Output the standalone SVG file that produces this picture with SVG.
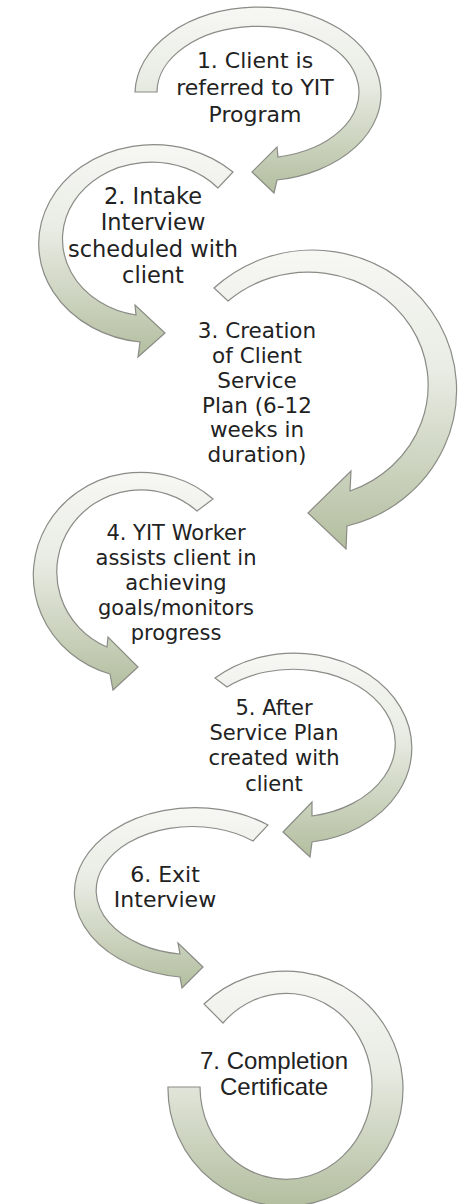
<svg xmlns="http://www.w3.org/2000/svg" width="458" height="1204" viewBox="0 0 458 1204">
<defs>
<linearGradient id="g" x1="0" y1="0" x2="0" y2="1">
<stop offset="0" stop-color="#f7f7f4"/>
<stop offset="0.4" stop-color="#e9ece4"/>
<stop offset="1" stop-color="#b3be9f"/>
</linearGradient>
<style>
.arr{fill:url(#g);stroke:#8a8c86;stroke-width:1.2;stroke-linejoin:miter}
.t{font-family:"DejaVu Sans",sans-serif;fill:#222222;text-anchor:middle}
.t7{font-family:"Liberation Sans",Arial,sans-serif;fill:#222222;text-anchor:middle}
</style>
</defs>
<rect width="458" height="1204" fill="#ffffff"/>
<g id="step1">
<path class="arr" d="M 135 92 A 123 87 0 1 1 277 180 L 274 193 L 252 172 L 277 147 L 278 157 A 101 66 0 1 0 157 92 Z"/>
<text class="t" font-size="22"><tspan x="255" y="68">1. Client is</tspan><tspan x="255" y="95">referred to YIT</tspan><tspan x="255" y="122">Program</tspan></text>
</g>
<g id="step2">
<path class="arr" d="M 233 172 A 115 99 0 1 0 140 342 L 138 357 L 165 333 L 135 305 L 136 315 A 89 77 0 1 1 218 188 Z"/>
<text class="t" font-size="22.5"><tspan x="153" y="204">2. Intake</tspan><tspan x="153" y="230">Interview</tspan><tspan x="153" y="257">scheduled with</tspan><tspan x="153" y="283">client</tspan></text>
</g>
<g id="step3">
<path class="arr" d="M 214 288 A 144 140 0 1 1 347 526 L 346 549 L 308 513 L 351 471 L 350 491 A 120 113 0 1 0 228 301 Z"/>
<text class="t" font-size="21.5"><tspan x="257" y="338">3. Creation</tspan><tspan x="257" y="363">of Client</tspan><tspan x="257" y="388">Service</tspan><tspan x="257" y="413">Plan (6-12</tspan><tspan x="257" y="437">weeks in</tspan><tspan x="257" y="462">duration)</tspan></text>
</g>
<g id="step4">
<path class="arr" d="M 213 499 A 107.5 103 0 1 0 110 674 L 113 690 L 138 667 L 108 637 L 107 647 A 84 82 0 1 1 197 511 Z"/>
<text class="t" font-size="21"><tspan x="176" y="540">4. YIT Worker</tspan><tspan x="176" y="565">assists client in</tspan><tspan x="176" y="590">achieving</tspan><tspan x="176" y="615">goals/monitors</tspan><tspan x="176" y="640">progress</tspan></text>
</g>
<g id="step5">
<path class="arr" d="M 215 678 A 117.5 95 0 1 1 312 842 L 310 857 L 283 832 L 312 802 L 312 816 A 102 74 0 1 0 227 687 Z"/>
<text class="t" font-size="21"><tspan x="274" y="715">5. After</tspan><tspan x="274" y="740">Service Plan</tspan><tspan x="274" y="765">created with</tspan><tspan x="274" y="791">client</tspan></text>
</g>
<g id="step6">
<path class="arr" d="M 268 825 A 120.6 85 0 1 0 180 977 L 182 988 L 203 967 L 178 943 L 180 954 A 96 64 0 1 1 253 841 Z"/>
<text class="t" font-size="22"><tspan x="165" y="882">6. Exit</tspan><tspan x="165" y="907">Interview</tspan></text>
</g>
<g id="step7">
<path class="arr" d="M 204 1004 A 117.5 117.5 0 1 1 168 1087 L 200 1087 A 86 93 0 1 0 223 1023 Z"/>
<text class="t7" font-size="24"><tspan x="274" y="1069">7. Completion</tspan><tspan x="274" y="1095">Certificate</tspan></text>
</g>
<g id="connectors"/>
</svg>
